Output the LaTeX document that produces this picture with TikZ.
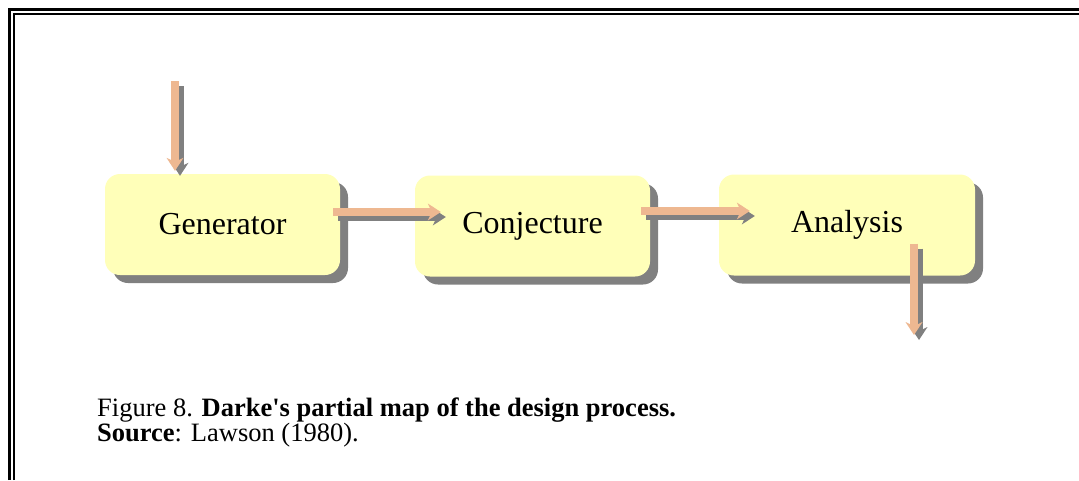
\documentclass[tikz,border=0pt]{standalone}
\usepackage{fontspec}
\setmainfont{Liberation Serif}
\usetikzlibrary{arrows.meta,shadows,calc}
\definecolor{boxyellow}{RGB}{255,255,185}
\definecolor{peach}{RGB}{238,184,145}
\definecolor{shade}{RGB}{128,128,128}
\tikzset{
stagebox/.style={fill=boxyellow, rounded corners=15pt, minimum height=101pt, inner sep=0pt,
  font=\fontsize{32}{38}\selectfont,
  drop shadow={shadow xshift=8pt, shadow yshift=-8pt, fill=shade, opacity=1}},
pipe/.style={draw=peach, line width=8pt, -{Stealth[length=13pt,width=17pt,inset=4pt,line width=0pt]}},
pipeshade/.style={pipe, draw=shade, transform canvas={shift={(5pt,-5pt)}}}
}

\begin{document}
\begin{tikzpicture}[x=1pt,y=-1pt]
\useasboundingbox[fill=white] (0,0) rectangle (1079,480);
\draw[line width=3pt] (9.5,480)--(9.5,9.5)--(1079,9.5);
\draw[line width=2pt] (14,480)--(14,14)--(1079,14);

\node[stagebox, minimum width=235pt] (gen) at (222.5,224.5) {Generator};
\node[stagebox, minimum width=235pt] (conj) at (532.5,226) {Conjecture};
\node[stagebox, minimum width=256pt] (ana) at (847,225) {Analysis};

\coordinate (in) at (175,81);
\coordinate (g1) at ([shift={(-7,-12.5)}]gen.east);
\coordinate (c1) at ([shift={(-9,-15)}]conj.east);
\coordinate (a1) at ([shift={(67,-32)}]ana.south);
\coordinate (out) at (914,335);

\draw[pipeshade] (in) -- ($(in |- gen.north)+(0,-3)$);
\draw[pipe] (in) -- ($(in |- gen.north)+(0,-3)$);
\draw[pipeshade] (g1) -- ($(g1 -| conj.west)+(26,0)$);
\draw[pipe] (g1) -- ($(g1 -| conj.west)+(26,0)$);
\draw[pipeshade] (c1) -- ($(c1 -| ana.west)+(31,0)$);
\draw[pipe] (c1) -- ($(c1 -| ana.west)+(31,0)$);
\draw[pipeshade] (a1) -- (out);
\draw[pipe] (a1) -- (out);

\node[anchor=north west, inner sep=0pt, align=left, font=\fontsize{26.5}{25}\selectfont] (cap) at (97,397.5)
  {Figure 8. \textbf{Darke\textquotesingle s partial map of the design process.}\\
   \textbf{Source}: Lawson (1980).};
\end{tikzpicture}
\end{document}
